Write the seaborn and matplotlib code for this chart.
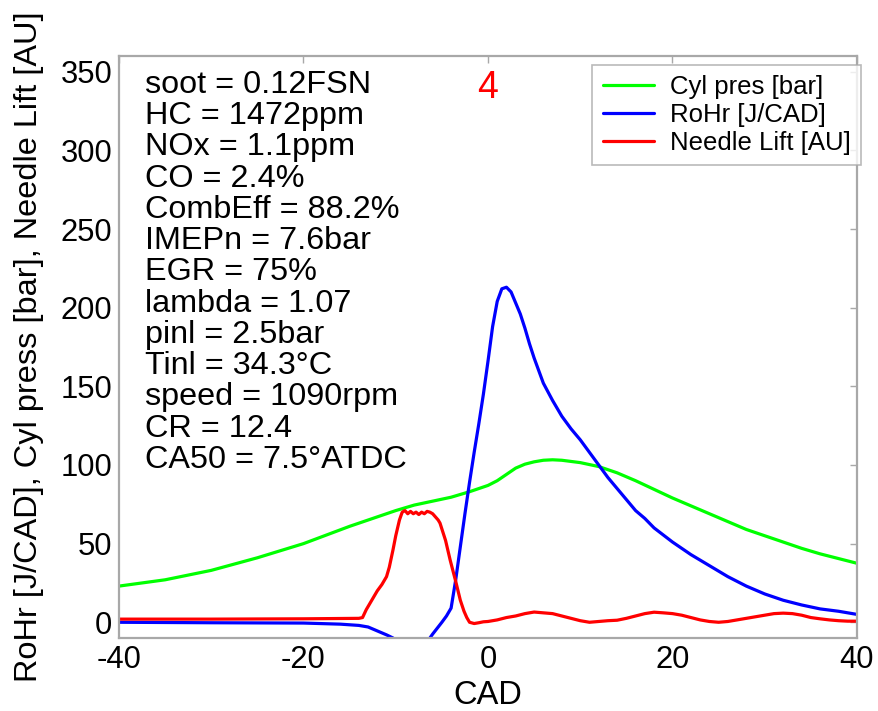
import numpy as np
import pandas as pd
import matplotlib
matplotlib.use("Agg")
import matplotlib.pyplot as plt
import seaborn as sns

# ---------------- data ----------------
cad_pres = [-40, -35, -30, -25, -20, -15, -10, -8, -6, -4, -2, 0, 1, 2, 3, 4, 5, 6, 7, 8,
            10, 12, 14, 16, 18, 20, 22, 24, 26, 28, 30, 32, 34, 36, 38, 40]
cyl_pres = [23, 27, 33, 41, 50, 61, 71, 74.5, 77, 79.5, 83, 87, 90, 94, 98, 100.5, 102, 103, 103.3, 103,
            101.5, 99, 95, 90, 84.5, 79, 74, 69, 64, 59, 55, 51, 47, 43.5, 40.5, 37.5]

cad_rohr = [-40, -30, -20, -16, -14, -13, -12, -11, -10.3, -10, -9, -8, -7, -6.3, -6, -5, -4.5, -4,
            -3.5, -3, -2.5, -2, -1.5, -1, -0.5, 0, 0.5, 1, 1.5, 2, 2.5, 3, 3.5, 4, 4.5, 5, 6, 7, 8,
            9, 10, 11, 12, 13, 14, 15, 16, 17, 18, 20, 22, 24, 26, 28, 30, 32, 34, 36, 38, 40]
rohr = [0, -0.3, -0.5, -1.2, -2, -3, -5.5, -8, -10, -11.5, -17, -20, -17, -10, -7.5, 0, 4, 9,
        27, 48, 69, 89, 108, 126, 145, 166, 188, 204, 212, 213, 210, 203, 196, 187, 177, 168, 152, 141, 131,
        123, 116, 108, 100, 92, 85, 78, 71, 66, 60, 51, 43, 36, 29, 23, 18, 14, 11, 8.5, 7, 5]

cad_needle = [-40, -30, -20, -14, -13.6, -13.2, -12.8, -12.4, -12, -11.5, -11, -10.7, -10.3, -10, -9.6,
              -9.3, -9, -8.7, -8.4, -8.1, -7.8, -7.5, -7.2, -6.9, -6.6, -6.3, -6, -5.7, -5.4, -5.2,
              -4.6, -4.1, -3.5, -3, -2.6, -2.3, -2, -1.5, -1, -0.5, 0, 1, 2, 3, 4, 5, 6, 7, 8, 9,
              10, 11, 12, 13, 14, 15, 16, 17, 18, 19, 20, 21, 22, 23, 24, 25, 26, 27, 28, 29, 30,
              31, 32, 33, 34, 35, 36, 37, 38, 39, 40]
needle = [2, 2, 2.2, 2.5, 3, 8, 12, 16, 20, 24, 29, 35, 46, 55, 65,
          70, 71, 69, 70.5, 69, 70, 68.5, 70, 69, 70.5, 70, 69, 67, 65, 63,
          52, 39.5, 26, 14, 7, 3, 0, -0.8, -0.3, 0.3, 0.5, 1.5, 3, 4, 5.5, 6.5, 6, 5.5, 4, 2.5,
          1, 0, 0.5, 1, 1.3, 2.5, 4, 5.5, 6.4, 6, 5.5, 4.5, 3, 1.5, 0.5, 0, 0.5, 1.5, 2.5, 3.5, 4.5,
          5.5, 5.8, 5.5, 4.5, 3, 2.2, 1.5, 1, 0.7, 0.7]

series_labels = ["Cyl pres [bar]", "RoHr [J/CAD]", "Needle Lift [AU]"]
series_colors = ["#00ff00", "#0000ff", "#ff0000"]

annotations = ["soot = 0.12FSN", "HC = 1472ppm", "NOx = 1.1ppm", "CO = 2.4%",
               "CombEff = 88.2%", "IMEPn = 7.6bar", "EGR = 75%", "lambda = 1.07",
               "pinl = 2.5bar", "Tinl = 34.3°C", "speed = 1090rpm", "CR = 12.4",
               "CA50 = 7.5°ATDC"]

xticks = [-40, -20, 0, 20, 40]
yticks = [0, 50, 100, 150, 200, 250, 300, 350]
xlabel = "CAD"
ylabel = "RoHr [J/CAD], Cyl press [bar], Needle Lift [AU]"
panel_tag = "4"

# ---------------- style ----------------
sns.set_style("white")
plt.rcParams["font.family"] = ["Liberation Sans", "DejaVu Sans"]
plt.rcParams["axes.unicode_minus"] = False
plt.rcParams["text.color"] = "black"
plt.rcParams["axes.labelcolor"] = "black"
plt.rcParams["xtick.color"] = "black"
plt.rcParams["ytick.color"] = "black"

W, H = 879, 711
fig = plt.figure(figsize=(W / 100, H / 100), dpi=100)
L, R, T, B = 119, 857, 56, 638
ax = fig.add_axes([L / W, 1 - B / H, (R - L) / W, (B - T) / H])

frames = [
    pd.DataFrame({"CAD": cad_pres, "value": cyl_pres}),
    pd.DataFrame({"CAD": cad_rohr, "value": rohr}),
    pd.DataFrame({"CAD": cad_needle, "value": needle}),
]
for df, lab, col in zip(frames, series_labels, series_colors):
    sns.lineplot(data=df, x="CAD", y="value", color=col, label=lab, lw=2.3, ax=ax,
                 estimator=None, sort=True)

ax.set_xlim(-40, 40)
ax.set_ylim(-10, 360)
ax.set_xticks(xticks)
ax.set_xticklabels([str(v) for v in xticks])
ax.set_yticks(yticks)
ax.set_yticklabels([str(v) for v in yticks])

frame_col = "#a8a8a8"
for s in ax.spines.values():
    s.set_visible(True)
    s.set_color(frame_col)
    s.set_linewidth(1.6)
ax.tick_params(direction="in", length=5, width=1, color=frame_col, top=True, right=True,
               labelsize=22.3, pad=5, labelcolor="black")

ax.set_xlabel(xlabel, fontsize=23.5)
ax.set_ylabel(ylabel, fontsize=23.4)
ax.xaxis.set_label_coords(0.5, (B - 680) / (B - T))
ax.yaxis.set_label_coords((44 - L) / (R - L), (B - 347) / (B - T))

# annotation block
for i, line in enumerate(annotations):
    ybase = 93 + 31.25 * i
    ax.text((145 - L) / (R - L), (B - ybase) / (B - T), line, transform=ax.transAxes,
            fontsize=23.3, ha="left", va="baseline", color="black")

ax.text((488 - L) / (R - L), (B - 88) / (B - T), panel_tag, transform=ax.transAxes,
        fontsize=27, ha="center", va="center", color="#ff0000")

leg = ax.legend(loc="upper right", bbox_to_anchor=(1.005, 0.985), borderaxespad=0,
                fontsize=18.5, frameon=True, fancybox=False, handlelength=2.0,
                handletextpad=0.6, labelspacing=0.15, borderpad=0.4)
leg.get_frame().set_edgecolor(frame_col)
leg.get_frame().set_linewidth(1.2)
for h in leg.get_lines():
    h.set_linewidth(2.3)

fig.savefig("out.png", dpi=100)
